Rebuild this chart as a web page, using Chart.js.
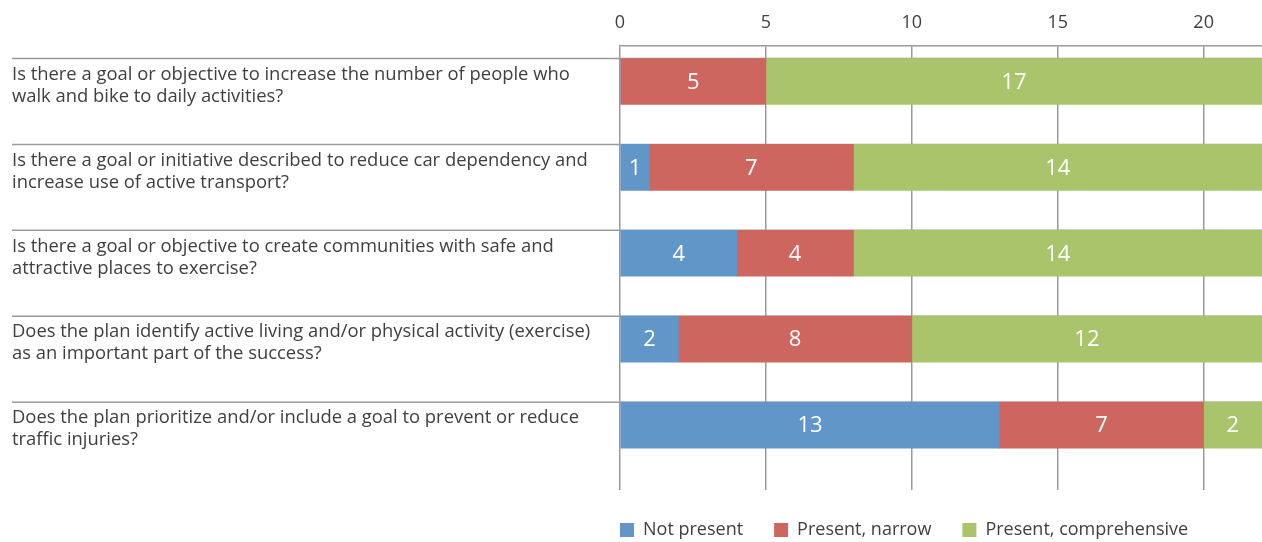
<!DOCTYPE html>
<html>
<head>
<meta charset="utf-8">
<script src="https://cdn.jsdelivr.net/npm/chart.js@4/dist/chart.umd.min.js"></script>
<style>
  html, body { margin: 0; padding: 0; background: #fff; }
  #wrap { width: 1262px; height: 542px; }
</style>
</head>
<body>
<div id="wrap"><canvas id="planChart"></canvas></div>
<script>
const questions = [
    ["Is there a goal or objective to increase the number of people who", "walk and bike to daily activities?"],
    ["Is there a goal or initiative described to reduce car dependency and", "increase use of active transport?"],
    ["Is there a goal or objective to create communities with safe and", "attractive places to exercise?"],
    ["Does the plan identify active living and/or physical activity (exercise)", "as an important part of the success?"],
    ["Does the plan prioritize and/or include a goal to prevent or reduce", "traffic injuries?"]
];
const notPresent = [0, 1, 4, 2, 13];
const presentNarrow = [5, 7, 4, 8, 7];
const presentComprehensive = [17, 14, 14, 12, 2];
const seriesNames = ["Not present", "Present, narrow", "Present, comprehensive"];
const xTicks = [0, 5, 10, 15, 20];

// each question owns one unit band on the y scale; bar sits at the top of it
const barOffset = 0.267;
const labelOffset = 0.314;
const gridColor = "#9a9a9a";
const textColor = "#404040";
const font = "'Open Sans', sans-serif";

const toPoints = (arr) => arr.map((v, i) => ({ x: v, y: i + barOffset }));

// band separators across the whole width
const separators = {
    id: "separators",
    beforeDatasetsDraw(chart) {
        const ctx = chart.ctx;
        const y = chart.scales.y;
        ctx.save();
        ctx.strokeStyle = gridColor;
        ctx.lineWidth = 1.5;
        questions.forEach((q, i) => {
            const py = y.getPixelForValue(i);
            ctx.beginPath();
            ctx.moveTo(y.left, py);
            ctx.lineTo(chart.chartArea.right, py);
            ctx.stroke();
        });
        ctx.restore();
    }
};

// white numbers inside the bars
const barValues = {
    id: "barValues",
    afterDatasetsDraw(chart) {
        const ctx = chart.ctx;
        ctx.save();
        ctx.fillStyle = "#fff";
        ctx.font = "22px " + font;
        ctx.textAlign = "center";
        ctx.textBaseline = "middle";
        chart.data.datasets.forEach((ds, di) => {
            chart.getDatasetMeta(di).data.forEach((bar, i) => {
                const v = ds.data[i].x;
                if (!v) return;
                ctx.fillText(v, (bar.x + bar.base) / 2, bar.y + 1);
            });
        });
        ctx.restore();
    }
};

// pull the legend back so the first box lines up with the zero line
const legendShift = {
    id: "legendShift",
    afterLayout(chart) {
        const pad = chart.legend.options.labels.padding;
        chart.legend.left -= pad;
        chart.legend.right -= pad;
    }
};

new Chart(document.getElementById("planChart"), {
    type: "bar",
    data: {
        datasets: [
            { label: seriesNames[0], data: toPoints(notPresent), backgroundColor: "#6096c8" },
            { label: seriesNames[1], data: toPoints(presentNarrow), backgroundColor: "#ce6660" },
            { label: seriesNames[2], data: toPoints(presentComprehensive), backgroundColor: "#a9c46b" }
        ]
    },
    options: {
        indexAxis: "y",
        responsive: true,
        maintainAspectRatio: false,
        animation: false,
        layout: { padding: { left: 12, top: 0, right: 0, bottom: -7 } },
        datasets: { bar: { barThickness: 46, borderWidth: 0 } },
        scales: {
            x: {
                type: "linear",
                position: "top",
                stacked: true,
                min: 0,
                max: 22,
                afterBuildTicks: (scale) => { scale.ticks = xTicks.map(v => ({ value: v })); },
                ticks: { color: textColor, font: { family: font, size: 18 }, padding: 12 },
                grid: { color: gridColor, lineWidth: 1.5, drawTicks: false },
                border: { display: true, color: gridColor, width: 1.5 }
            },
            y: {
                type: "linear",
                position: "left",
                stacked: true,
                reverse: true,
                offset: false,
                min: -0.151,
                max: 5.023,
                afterBuildTicks: (scale) => { scale.ticks = questions.map((q, i) => ({ value: i + labelOffset })); },
                afterFit: (scale) => { scale.width = 608; },
                ticks: {
                    crossAlign: "far",
                    color: textColor,
                    font: { family: font, size: 18.4, lineHeight: 1.2 },
                    callback: (value, index) => questions[index]
                },
                grid: { display: false },
                border: { display: false }
            }
        },
        plugins: {
            legend: {
                position: "bottom",
                align: "start",
                fullSize: false,
                labels: {
                    boxWidth: 14,
                    boxHeight: 14,
                    padding: 31,
                    color: textColor,
                    font: { family: font, size: 18 }
                }
            },
            tooltip: { enabled: false }
        }
    },
    plugins: [separators, barValues, legendShift]
});
</script>
</body>
</html>
